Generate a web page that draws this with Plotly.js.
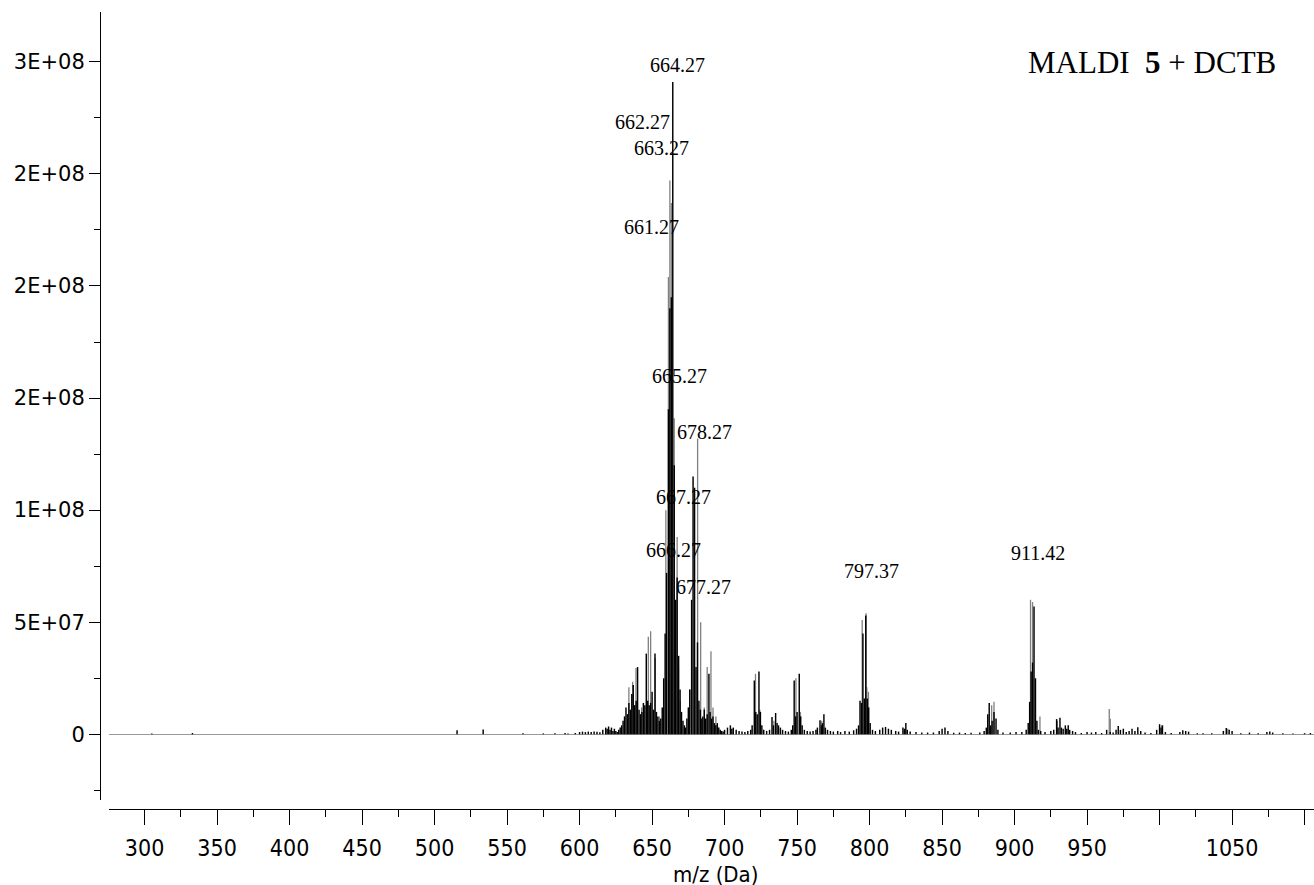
<!DOCTYPE html>
<html>
<head>
<meta charset="utf-8">
<script src="https://cdn.plot.ly/plotly-3.0.1.min.js"></script>
<style>html,body{margin:0;padding:0;background:#fff;}#chart{width:1314px;height:885px;}</style>
</head>
<body>
<div id="chart"></div>
<script>
// ---- data ----
const mzBlack = [305,333,515.5,533.5,561,575,583,590,592,597,600,602,604,606,608,610,612,614,616,618,619,620,621,622,623,624,625,626,627,628,629,
630,631,632,633,634,635,636,637,638,639,640,641,642,643,644,645,646,647,648,649,650,651,652,653,654,655,656,657,
658,659,660,661.27,662.27,663.27,664.27,665.27,666.27,667.27,668.3,669.3,670.3,671.3,672.3,673,674,675,676,677.27,678.27,679.3,680.3,681.3,682.3,683.3,684.3,685,686,687,688,689.2,690,691,692,693,694,695,696,697,698,699,700,702,704,705,706,708,710,712,714,716,
718,719,720.5,721.5,722.5,723.7,724.7,725.7,727,729,731,732.7,733.7,735.2,736.2,737.2,738.5,740,742,744,746,747,748,749,750,751.5,752.5,753.5,755,757,759,761,763,764,765.8,766.8,767.5,768.5,769.5,771,773,775,778,780,783,786,789,791,
792.4,793.4,794.4,795.4,796.4,797.37,798.4,799.4,800.4,802,804,807,809,811,813,815,818,820,823,824,825,826,828,832,836,840,844,848,850,852,854,858,862,866,870,876,
879,880.5,881.5,882.5,883.5,884.5,885.8,887.2,888.5,892,897,901,905,908,909.4,910.4,911.42,912.4,913.4,914.4,915.4,916.4,918,921,925,927,929,930,931.3,932.3,933.5,935,936,937,938,940,942,946,950,953,956,960,963.5,966,968,970,971.5,973,975,977,979,981,983,985,987,990,994,998,1000,1001,1002,1004,1008,1014,1016,1018,1020,1026,1030,1036,1044,1046,1048,1050,1056,1062,1068,1074,1076,1078,1085,1092,1100,1104];
const intBlack = [4e5,6e5,1.8e6,2.2e6,5e5,4e5,5e5,6e5,4e5,6e5,1.0e6,1.2e6,1.0e6,1.2e6,1.0e6,1.3e6,1.1e6,0.9e6,2.0e6,3.0e6,2.5e6,3.5e6,2.0e6,3.0e6,1.5e6,2.5e6,1.5e6,1.0e6,2.0e6,3.0e6,4.0e6,
6e6,8e6,1.2e7,9e6,1.4e7,1.1e7,1.8e7,2.2e7,1.3e7,1.5e7,3.0e7,1.1e7,9e6,1.0e7,1.4e7,1.3e7,3.6e7,1.5e7,1.3e7,1.4e7,1.9e7,1.1e7,3.6e7,1.0e7,8e6,6e6,7e6,1.2e7,
2.5e7,4.5e7,7.2e7,1.45e8,1.9e8,1.95e8,2.91e8,1.2e8,6.0e7,7.0e7,3.5e7,2.0e7,1.0e7,6e6,4e6,3e6,7e6,1.2e7,2.0e7,6.0e7,1.15e8,1.1e8,3.0e7,4.1e7,1.5e7,1.1e7,7e6,8e6,1.1e7,7e6,9e6,2.7e7,1.0e7,7e6,8e6,5e6,4e6,5e6,3e6,2e6,1.5e6,1.2e6,2e6,3e6,4e6,2.5e6,3e6,2e6,1.5e6,1.2e6,1.0e6,1.5e6,
2e6,4e6,2.4e7,1.0e7,9e6,2.8e7,1.0e7,4e6,2e6,1.5e6,2e6,7.7e6,4e6,9.5e6,5e6,4e6,3e6,2e6,1.5e6,1.2e6,2e6,4e6,2.4e7,8e6,1.0e7,2.7e7,8e6,4e6,2e6,1.5e6,1.2e6,1.5e6,2e6,3e6,6.3e6,4e6,5e6,9e6,3e6,2e6,1.5e6,1.2e6,1.5e6,1.0e6,1.5e6,1.2e6,1.8e6,2.5e6,
4e6,1.5e7,1.4e7,4.5e7,1.6e7,5.3e7,1.6e7,1.2e7,5e6,2e6,1.5e6,2e6,3e6,3.3e6,2.5e6,2e6,1.5e6,1.2e6,3e6,2.5e6,5e6,2e6,1.2e6,1.0e6,0.8e6,0.8e6,0.8e6,1.5e6,2.5e6,3e6,1.5e6,0.7e6,0.8e6,0.6e6,0.7e6,0.8e6,
1.5e6,3e6,9e6,1.4e7,4e6,6e6,1.0e7,7e6,2e6,0.8e6,0.8e6,1.0e6,1.0e6,2e6,5e6,1.45e7,2.8e7,3.2e7,5.7e7,2.5e7,6e6,2e6,1.5e6,1e6,1.5e6,2e6,6.8e6,3e6,7.4e6,3e6,2.5e6,4e6,2.5e6,4e6,2e6,1.5e6,1e6,0.6e6,1.0e6,0.8e6,1.0e6,0.6e6,2e6,1.0e6,0.8e6,2e6,3.7e6,2e6,2.5e6,1e6,1.5e6,2.5e6,1.5e6,3.2e6,1.5e6,0.8e6,0.6e6,2e6,4.5e6,3e6,4e6,1.0e6,0.6e6,1.0e6,1.8e6,1.5e6,1.2e6,0.5e6,0.5e6,0.5e6,1.5e6,2.8e6,2.0e6,1.5e6,0.5e6,0.8e6,0.5e6,1.0e6,1.3e6,0.8e6,0.5e6,0.4e6,0.5e6,0.6e6];

const mzGray = [634,636.6,638.9,642.8,647.4,649,652.2,655,659.5,661.27,662.27,663.27,665.27,667.27,668.2,669.5,676,681.4,683.5,686,688,690.6,692,694,
721.3,724.3,734,749.2,752.3,767,794.9,797.6,798.1,799.2,884.2,885.8,911.0,912.4,917.5,929.5,965.3,966,1001.5,1047];
const intGray = [2.1e7,2.35e7,2.96e7,1.2e7,4.35e7,4.6e7,3.4e7,8e6,1.0e8,2.04e8,2.47e8,2.37e8,1.41e8,8.8e7,3.0e7,1.5e7,2.0e7,1.32e8,5.0e7,1.2e7,3.0e7,3.7e7,1.2e7,8e6,
2.7e7,1.1e7,6e6,2.5e7,1.0e7,6e6,5.1e7,5.4e7,2.1e7,1.9e7,1.3e7,1.45e7,6.0e7,5.9e7,8e6,6e6,1.13e7,6.9e6,4e6,2.5e6];

const peakLabels = ['664.27','662.27','663.27','661.27','665.27','678.27','667.27','666.27','677.27','797.37','911.42'];
const chartTitle = 'MALDI\u00a0\u00a0<b>5</b> + DCTB';
const xAxisTitle = 'm/z (Da)';
const xTickVals = [300,350,400,450,500,550,600,650,700,750,800,850,900,950,1000,1050,1100];
const xTickText = ['300','350','400','450','500','550','600','650','700','750','800','850','900','950','','1050',''];
const yTickVals = [0,5e7,1e8,1.5e8,2e8,2.5e8,3e8];
const yTickText = ['0','5E+07','1E+08','2E+08','2E+08','2E+08','3E+08'];

// ---- label placement (data coords of label centres) ----
const labelPos = {
  '664.27':[667.2,2.985e8], '662.27':[643.7,2.73e8], '663.27':[656.8,2.615e8], '661.27':[649.9,2.262e8],
  '665.27':[669.2,1.60e8], '678.27':[686.4,1.35e8], '667.27':[671.5,1.06e8], '666.27':[665.1,8.22e7],
  '677.27':[685.3,6.58e7], '797.37':[801.4,7.3e7], '911.42':[915.9,8.1e7]
};

const xMinor = [];
for (let v = 325; v < 1100; v += 50) xMinor.push(v);
const yMinor = [-2.5e7,2.5e7,7.5e7,1.25e8,1.75e8,2.25e8,2.75e8];

const traces = [
  {type:'bar', x:mzGray, y:intGray, width:0.9, marker:{color:'#808080', line:{width:0}}, hoverinfo:'skip'},
  {type:'bar', x:mzBlack, y:intBlack, width:1.0, marker:{color:'#000000', line:{width:0}}, hoverinfo:'skip'}
];

const tickFontX = {family:'DejaVu Sans Condensed, Liberation Sans Narrow, DejaVu Sans, sans-serif', size:23, color:'#000'};
const tickFontY = {family:'DejaVu Sans, Verdana, sans-serif', size:21, color:'#000'};

const annFont = {family:'Liberation Serif, Times New Roman, serif', size:20, color:'#000'};
const annotations = peakLabels.map(t => ({
  x: labelPos[t][0], y: labelPos[t][1], xref:'x', yref:'y', text:t, showarrow:false,
  font: annFont, xanchor:'center', yanchor:'middle'
}));
annotations.push({x:994.6, y:2.995e8, xref:'x', yref:'y', text:chartTitle, showarrow:false,
  font:{family:'Liberation Serif, Times New Roman, serif', size:31, color:'#000'}, xanchor:'center', yanchor:'middle'});
annotations.push({x:0.5066, y:-0.082, xref:'paper', yref:'paper', text:xAxisTitle, showarrow:false,
  font:{family:tickFontX.family, size:22, color:'#000'}, xanchor:'center', yanchor:'middle'});

const layout = {
  width:1314, height:885,
  margin:{l:100, r:0, t:12, b:76, pad:0},
  paper_bgcolor:'#fff', plot_bgcolor:'#fff',
  showlegend:false, barmode:'overlay', hovermode:false,
  xaxis:{
    domain:[9/1214, 1], anchor:'free', position:0,
    range:[275.45, 1106.5], showgrid:false, zeroline:false,
    showline:true, linecolor:'#000', linewidth:1,
    ticks:'outside', ticklen:15, tickwidth:1, tickcolor:'#000',
    ticklabelstandoff:3,
    tickmode:'array', tickvals:xTickVals, ticktext:xTickText,
    tickfont:tickFontX,
    minor:{tickmode:'array', tickvals:xMinor, ticks:'outside', ticklen:7, tickwidth:1, tickcolor:'#000', showgrid:false}
  },
  yaxis:{
    domain:[9/797, 1], anchor:'free', position:0,
    range:[-2.93e7, 3.222e8], showgrid:false,
    zeroline:true, zerolinecolor:'#9a9a9a', zerolinewidth:1,
    showline:true, linecolor:'#000', linewidth:1,
    ticks:'outside', ticklen:11, tickwidth:1, tickcolor:'#000',
    tickmode:'array', tickvals:yTickVals, ticktext:yTickText,
    tickfont:tickFontY,
    minor:{tickmode:'array', tickvals:yMinor, ticks:'outside', ticklen:6, tickwidth:1, tickcolor:'#000', showgrid:false}
  },
  annotations:annotations
};

Plotly.newPlot('chart', traces, layout, {staticPlot:true, displayModeBar:false});
</script>
</body>
</html>
